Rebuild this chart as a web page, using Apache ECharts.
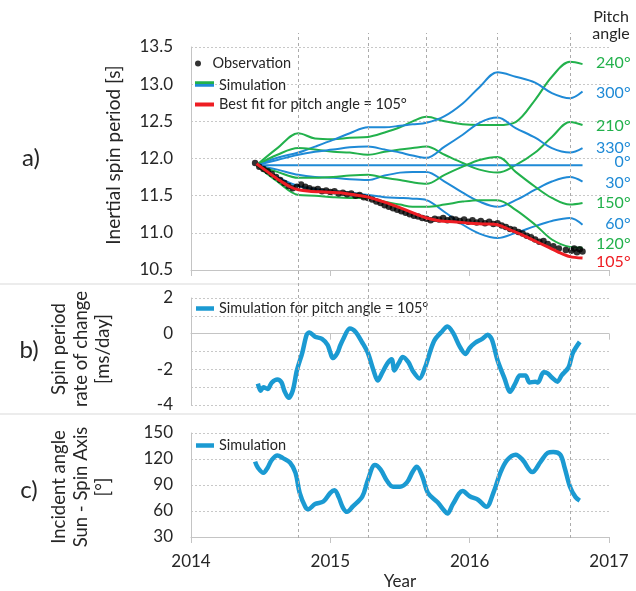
<!DOCTYPE html>
<html>
<head>
<meta charset="utf-8">
<script src="https://cdn.jsdelivr.net/npm/echarts@6/dist/echarts.min.js"></script>
<style>
  html, body { margin: 0; padding: 0; background: #ffffff; }
  #chart { width: 636px; height: 591px; }
</style>
</head>
<body>
<div id="chart"></div>
<script>
// ---------- a) inertial spin period, simulated for each pitch angle ----------
const simYears = [2014.47, 2014.62, 2014.77, 2014.89, 2015.02, 2015.14, 2015.27, 2015.39, 2015.50, 2015.59,
                  2015.69, 2015.82, 2015.95, 2016.07, 2016.20, 2016.33, 2016.47, 2016.59, 2016.72, 2016.81];
const period240 = [11.91, 12.14, 12.34, 12.27, 12.26, 12.28, 12.29, 12.35, 12.42, 12.50, 12.56, 12.50, 12.46, 12.45, 12.45, 12.49, 12.79, 13.10, 13.30, 13.27];
const period300 = [11.91, 12.01, 12.08, 12.16, 12.25, 12.34, 12.42, 12.42, 12.44, 12.46, 12.48, 12.57, 12.74, 12.96, 13.16, 13.10, 13.02, 12.88, 12.81, 12.90];
const period210 = [11.91, 12.05, 12.14, 12.12, 12.09, 12.08, 12.05, 12.09, 12.12, 12.14, 12.16, 12.05, 11.94, 11.85, 11.81, 11.91, 12.08, 12.29, 12.49, 12.45];
const period330 = [11.91, 11.98, 12.05, 12.09, 12.12, 12.15, 12.16, 12.12, 12.08, 12.04, 12.01, 12.16, 12.32, 12.48, 12.55, 12.41, 12.28, 12.14, 12.08, 12.14];
const period0   = [11.91, 11.91, 11.91, 11.91, 11.91, 11.91, 11.91, 11.91, 11.91, 11.91, 11.91, 11.91, 11.91, 11.91, 11.91, 11.91, 11.91, 11.91, 11.91, 11.91];
const period30  = [11.91, 11.85, 11.78, 11.75, 11.74, 11.72, 11.71, 11.77, 11.81, 11.82, 11.82, 11.69, 11.54, 11.42, 11.35, 11.44, 11.58, 11.69, 11.75, 11.69];
const period150 = [11.91, 11.82, 11.74, 11.74, 11.75, 11.77, 11.78, 11.74, 11.71, 11.68, 11.66, 11.78, 11.89, 11.98, 12.02, 11.82, 11.62, 11.47, 11.38, 11.40];
const period60  = [11.91, 11.75, 11.63, 11.59, 11.56, 11.54, 11.51, 11.48, 11.47, 11.46, 11.44, 11.28, 11.11, 10.99, 10.93, 11.00, 11.09, 11.16, 11.20, 11.11];
const period120 = [11.91, 11.69, 11.51, 11.50, 11.48, 11.47, 11.47, 11.42, 11.38, 11.35, 11.35, 11.38, 11.42, 11.44, 11.44, 11.31, 11.11, 10.91, 10.81, 10.80];

// best fit (pitch angle 105°)
const fitYears  = [2014.47, 2014.55, 2014.64, 2014.71, 2014.77, 2014.85, 2014.96, 2015.07, 2015.18, 2015.27, 2015.36, 2015.44, 2015.54, 2015.63,
                   2015.69, 2015.79, 2015.88, 2016.00, 2016.11, 2016.20, 2016.29, 2016.38, 2016.47, 2016.56, 2016.65, 2016.72, 2016.81];
const fitPeriod = [11.93, 11.82, 11.70, 11.62, 11.58, 11.56, 11.55, 11.54, 11.51, 11.48, 11.43, 11.38, 11.31, 11.24,
                   11.20, 11.16, 11.15, 11.13, 11.12, 11.11, 11.04, 10.97, 10.89, 10.81, 10.73, 10.68, 10.66];

// observed spin period
const obsYears = [2014.46, 2014.49, 2014.52, 2014.55, 2014.58, 2014.61, 2014.64, 2014.67, 2014.70, 2014.73,
                  2014.76, 2014.79, 2014.82, 2014.85, 2014.88, 2014.91, 2014.94, 2014.97, 2015.00, 2015.03,
                  2015.06, 2015.09, 2015.12, 2015.15, 2015.18, 2015.21, 2015.24, 2015.27, 2015.30, 2015.33,
                  2015.36, 2015.39, 2015.42, 2015.45, 2015.48, 2015.51, 2015.54, 2015.57, 2015.60, 2015.63,
                  2015.66, 2015.69, 2015.72, 2015.75, 2015.78, 2015.81, 2015.84, 2015.87, 2015.90, 2015.93,
                  2015.96, 2015.99, 2016.02, 2016.05, 2016.08, 2016.11, 2016.14, 2016.17, 2016.20, 2016.23,
                  2016.26, 2016.29, 2016.32, 2016.35, 2016.38, 2016.41, 2016.44, 2016.47, 2016.50, 2016.53,
                  2016.56, 2016.60, 2016.64, 2016.69, 2016.73, 2016.75, 2016.77, 2016.79, 2016.81];
const obsPeriods = [11.94, 11.89, 11.86, 11.83, 11.79, 11.75, 11.71, 11.67, 11.63, 11.60,
                    11.62, 11.65, 11.62, 11.60, 11.58, 11.59, 11.56, 11.57, 11.55, 11.56,
                    11.53, 11.54, 11.52, 11.53, 11.50, 11.51, 11.48, 11.47, 11.45, 11.42,
                    11.40, 11.37, 11.35, 11.33, 11.31, 11.29, 11.27, 11.25, 11.23, 11.22,
                    11.20, 11.19, 11.17, 11.19, 11.18, 11.20, 11.17, 11.19, 11.18, 11.16,
                    11.18, 11.15, 11.17, 11.14, 11.16, 11.13, 11.15, 11.12, 11.13, 11.10,
                    11.08, 11.05, 11.04, 11.01, 10.99, 10.96, 10.94, 10.91, 10.88, 10.89,
                    10.85, 10.82, 10.79, 10.77, 10.76, 10.79, 10.74, 10.78, 10.75];

// ---------- b) spin period rate of change [ms/day] ----------
const rateYears = [2014.48, 2014.50, 2014.52, 2014.55, 2014.58, 2014.62, 2014.65, 2014.67, 2014.70, 2014.73,
                   2014.76, 2014.80, 2014.83, 2014.85, 2014.89, 2014.94, 2014.98, 2015.02, 2015.05, 2015.07,
                   2015.09, 2015.14, 2015.18, 2015.23, 2015.27, 2015.31, 2015.34, 2015.37, 2015.41, 2015.44,
                   2015.46, 2015.49, 2015.52, 2015.56, 2015.59, 2015.64, 2015.68, 2015.72, 2015.75, 2015.80,
                   2015.84, 2015.88, 2015.93, 2015.97, 2016.00, 2016.04, 2016.09, 2016.13, 2016.16, 2016.20,
                   2016.25, 2016.29, 2016.33, 2016.36, 2016.40, 2016.43, 2016.47, 2016.49, 2016.53, 2016.56,
                   2016.59, 2016.63, 2016.66, 2016.71, 2016.74, 2016.79];
const rateValues = [-2.8, -3.2, -3.0, -3.1, -2.74, -2.57, -2.74, -3.2, -3.6, -3.2,
                    -2.06, -1.03, -0.06, 0.06, -0.17, -0.29, -0.63, -1.37, -1.09, -0.69,
                    -0.34, 0.29, 0.11, -0.51, -1.09, -2.06, -2.63, -2.23, -1.66, -1.43,
                    -2.06, -1.66, -1.31, -1.60, -2.06, -2.51, -1.89, -0.91, -0.34, 0.11,
                    0.40, 0.06, -0.74, -1.14, -0.80, -0.51, -0.29, -0.06, -0.34, -1.49,
                    -2.51, -3.26, -2.74, -2.34, -2.34, -2.74, -2.69, -2.74, -2.17, -2.23,
                    -2.46, -2.69, -2.34, -1.89, -1.09, -0.46];

// ---------- c) incident angle Sun - spin axis [°] ----------
const incYears = [2014.46, 2014.48, 2014.52, 2014.55, 2014.58, 2014.62, 2014.66, 2014.71, 2014.75, 2014.78,
                  2014.82, 2014.84, 2014.89, 2014.95, 2015.00, 2015.03, 2015.06, 2015.09, 2015.12, 2015.16,
                  2015.23, 2015.27, 2015.32, 2015.36, 2015.41, 2015.45, 2015.50, 2015.55, 2015.59, 2015.62,
                  2015.66, 2015.70, 2015.77, 2015.82, 2015.84, 2015.88, 2015.95, 2016.00, 2016.06, 2016.12,
                  2016.17, 2016.22, 2016.27, 2016.33, 2016.38, 2016.45, 2016.51, 2016.56, 2016.60, 2016.65,
                  2016.68, 2016.72, 2016.76, 2016.79];
const incValues = [117, 110, 104, 110, 119, 124, 121, 116, 104, 81,
                   65, 62, 68, 71, 81, 84, 76, 64, 59, 65,
                   77, 96, 113, 108, 94, 88, 88, 93, 105, 111,
                   100, 81, 70, 60, 57, 68, 83, 77, 73, 65,
                   81, 104, 119, 125, 119, 105, 117, 127, 128, 125,
                   111, 88, 76, 72];

// dates of the dashed vertical markers
const eventYears = [2014.77, 2015.27, 2015.69, 2016.20, 2016.72];

// ---------- styling ----------
const FONT = 'Lato, "Open Sans", sans-serif';
const TEXT = '#262626';
const GREEN = '#22b14c';
const BLUE = '#1f8ad6';
const RED = '#ee1d23';
const THICK_BLUE = '#1b9ad2';
const AXIS_GRAY = '#c4c4c4';
const gridLine = { show: true, lineStyle: { color: '#c8c8c8', type: [2, 2], width: 1 } };

const pairs = (xs, ys) => xs.map((x, i) => [x, ys[i]]);

function xAxisFor(gridIndex, showLabels) {
  return {
    type: 'value', gridIndex, min: 2014, max: 2017, interval: 1,
    name: showLabels ? 'Year' : '', nameLocation: 'middle', nameGap: 36,
    nameTextStyle: { fontSize: 17, color: TEXT, fontFamily: FONT },
    axisLine: { show: true, lineStyle: { color: AXIS_GRAY } },
    axisTick: { show: true, length: 6, lineStyle: { color: AXIS_GRAY } },
    axisLabel: { show: showLabels, fontSize: 17, color: TEXT, fontFamily: FONT, margin: 16,
                 formatter: v => String(v) },
    splitLine: { show: false }
  };
}
function yAxisFor(gridIndex, min, max, interval, formatter) {
  return {
    type: 'value', gridIndex, min, max, interval,
    axisLine: { show: true, lineStyle: { color: AXIS_GRAY } },
    axisTick: { show: false },
    axisLabel: { fontSize: 17, color: TEXT, fontFamily: FONT, margin: 18, formatter },
    splitLine: gridLine
  };
}

const lastYear = simYears[simYears.length - 1];
function simSeries(values, color, label, dy) {
  const last = values[values.length - 1];
  return {
    type: 'line', name: color === GREEN ? 'Simulation' : 'Simulation, blue',
    xAxisIndex: 0, yAxisIndex: 0, data: pairs(simYears, values),
    smooth: 0.35, showSymbol: false, z: 3,
    lineStyle: { color, width: 2 }, itemStyle: { color },
    markPoint: {
      symbol: 'circle', symbolSize: 1, silent: true,
      itemStyle: { color: 'rgba(0,0,0,0)' },
      label: { show: true, position: 'inside', align: 'right', offset: [48, dy],
               formatter: label, color, fontSize: 16, fontFamily: FONT },
      data: [{ coord: [lastYear, last] }]
    }
  };
}

const legendText = { fontSize: 14.5, color: TEXT, fontFamily: FONT };
const legendBase = { orient: 'vertical', selectedMode: false, padding: 0, itemGap: 0, textStyle: legendText };

const chart = echarts.init(document.getElementById('chart'));
chart.setOption({
  animation: false,
  backgroundColor: '#ffffff',
  grid: [
    { left: 191, width: 418, top: 47, height: 223 },
    { left: 191, width: 418, top: 298, height: 107 },
    { left: 191, width: 418, top: 433, height: 105 },
    { left: 191, width: 418, top: 33, height: 505 }
  ],
  xAxis: [
    xAxisFor(0, false), xAxisFor(1, false), xAxisFor(2, true),
    { type: 'value', gridIndex: 3, min: 2014, max: 2017, show: false }
  ],
  yAxis: [
    yAxisFor(0, 10.5, 13.5, 0.5, v => v.toFixed(1)),
    yAxisFor(1, -4, 2, 1, v => (v % 2 === 0 ? String(v) : '')),
    yAxisFor(2, 30, 150, 30),
    { type: 'value', gridIndex: 3, min: 0, max: 1, show: false }
  ],
  legend: [
    Object.assign({}, legendBase, { left: 195, top: 56, itemWidth: 19, itemHeight: 6,
      data: [{ name: 'Observation', icon: 'circle' }] }),
    Object.assign({}, legendBase, { left: 195, top: 78, itemWidth: 19, itemHeight: 9,
      data: [{ name: 'Simulation', icon: 'path://M0,0L20,0L20,3L0,3ZM0,9L0.01,9' }] }),
    Object.assign({}, legendBase, { left: 195, top: 78, itemWidth: 19, itemHeight: 9, formatter: () => '',
      data: [{ name: 'Simulation, blue', icon: 'path://M0,6L20,6L20,9L0,9ZM0,0L0.01,0' }] }),
    Object.assign({}, legendBase, { left: 195, top: 97, itemWidth: 19, itemHeight: 4,
      data: [{ name: 'Best fit for pitch angle = 105°', icon: 'rect' }] }),
    Object.assign({}, legendBase, { left: 196, top: 301, itemWidth: 18, itemHeight: 4.5,
      data: [{ name: 'Simulation for pitch angle = 105°', icon: 'rect' }] }),
    Object.assign({}, legendBase, { left: 196, top: 438, itemWidth: 18, itemHeight: 4.5,
      formatter: () => 'Simulation',
      data: [{ name: 'Incident angle', icon: 'rect' }] })
  ],
  graphic: [
    { type: 'line', shape: { x1: 0, y1: 284, x2: 636, y2: 284 }, style: { stroke: '#d9d9d9', lineWidth: 1 }, silent: true },
    { type: 'line', shape: { x1: 0, y1: 414, x2: 636, y2: 414 }, style: { stroke: '#d9d9d9', lineWidth: 1 }, silent: true },
    { type: 'text', x: 31, y: 158, style: { text: 'a)', fill: TEXT, font: '24px ' + FONT, align: 'center', verticalAlign: 'middle' } },
    { type: 'text', x: 29, y: 350, style: { text: 'b)', fill: TEXT, font: '24px ' + FONT, align: 'center', verticalAlign: 'middle' } },
    { type: 'text', x: 29, y: 490, style: { text: 'c)', fill: TEXT, font: '24px ' + FONT, align: 'center', verticalAlign: 'middle' } },
    { type: 'text', x: 114, y: 155, rotation: Math.PI / 2,
      style: { text: 'Inertial spin period [s]', fill: TEXT, font: '19px ' + FONT, align: 'center', verticalAlign: 'middle' } },
    { type: 'text', x: 81, y: 349, rotation: Math.PI / 2,
      style: { text: 'Spin period\nrate of change\n[ms/day]', fill: TEXT, font: '18.5px ' + FONT, lineHeight: 22, align: 'center', verticalAlign: 'middle' } },
    { type: 'text', x: 81, y: 487, rotation: Math.PI / 2,
      style: { text: 'Incident angle\nSun - Spin Axis\n[°]', fill: TEXT, font: '18.5px ' + FONT, lineHeight: 22, align: 'center', verticalAlign: 'middle' } },
    { type: 'text', x: 611, y: 25, style: { text: 'Pitch\nangle', fill: TEXT, font: '16px ' + FONT, lineHeight: 17, align: 'center', verticalAlign: 'middle' } }
  ],
  series: [
    // dashed vertical markers through all three panels
    { type: 'line', xAxisIndex: 3, yAxisIndex: 3, data: [], silent: true, z: 1,
      markLine: { silent: true, symbol: ['none', 'none'], label: { show: false }, animation: false,
                  lineStyle: { color: '#ababab', type: [3, 3], width: 1 },
                  data: eventYears.map(t => ({ xAxis: t })) } },
    simSeries(period240, GREEN, '240°', -1),
    simSeries(period300, BLUE, '300°', 1),
    simSeries(period210, GREEN, '210°', 1),
    simSeries(period330, BLUE, '330°', 0),
    simSeries(period0, BLUE, '0°', -3),
    simSeries(period30, BLUE, '30°', 1),
    simSeries(period150, GREEN, '150°', 0),
    simSeries(period60, BLUE, '60°', -1),
    simSeries(period120, GREEN, '120°', -4),
    { type: 'scatter', name: 'Observation', xAxisIndex: 0, yAxisIndex: 0, z: 4,
      data: pairs(obsYears, obsPeriods), symbolSize: 6.5, itemStyle: { color: '#000000' } },
    { type: 'line', name: 'Best fit for pitch angle = 105°', xAxisIndex: 0, yAxisIndex: 0, z: 5,
      data: pairs(fitYears, fitPeriod), smooth: 0.3, showSymbol: false,
      lineStyle: { color: RED, width: 3 }, itemStyle: { color: RED },
      markPoint: {
        symbol: 'circle', symbolSize: 1, silent: true, itemStyle: { color: 'rgba(0,0,0,0)' },
        label: { show: true, position: 'inside', align: 'right', offset: [48, 4], formatter: '105°',
                 color: RED, fontSize: 16, fontFamily: FONT },
        data: [{ coord: [fitYears[fitYears.length - 1], fitPeriod[fitPeriod.length - 1]] }]
      } },
    { type: 'line', name: 'Simulation for pitch angle = 105°', xAxisIndex: 1, yAxisIndex: 1, z: 3,
      data: pairs(rateYears, rateValues), smooth: 0.3, showSymbol: false,
      lineStyle: { color: THICK_BLUE, width: 4.5 }, itemStyle: { color: THICK_BLUE } },
    { type: 'line', name: 'Incident angle', xAxisIndex: 2, yAxisIndex: 2, z: 3,
      data: pairs(incYears, incValues), smooth: 0.35, showSymbol: false,
      lineStyle: { color: THICK_BLUE, width: 4.5 }, itemStyle: { color: THICK_BLUE } }
  ]
});
</script>
</body>
</html>
